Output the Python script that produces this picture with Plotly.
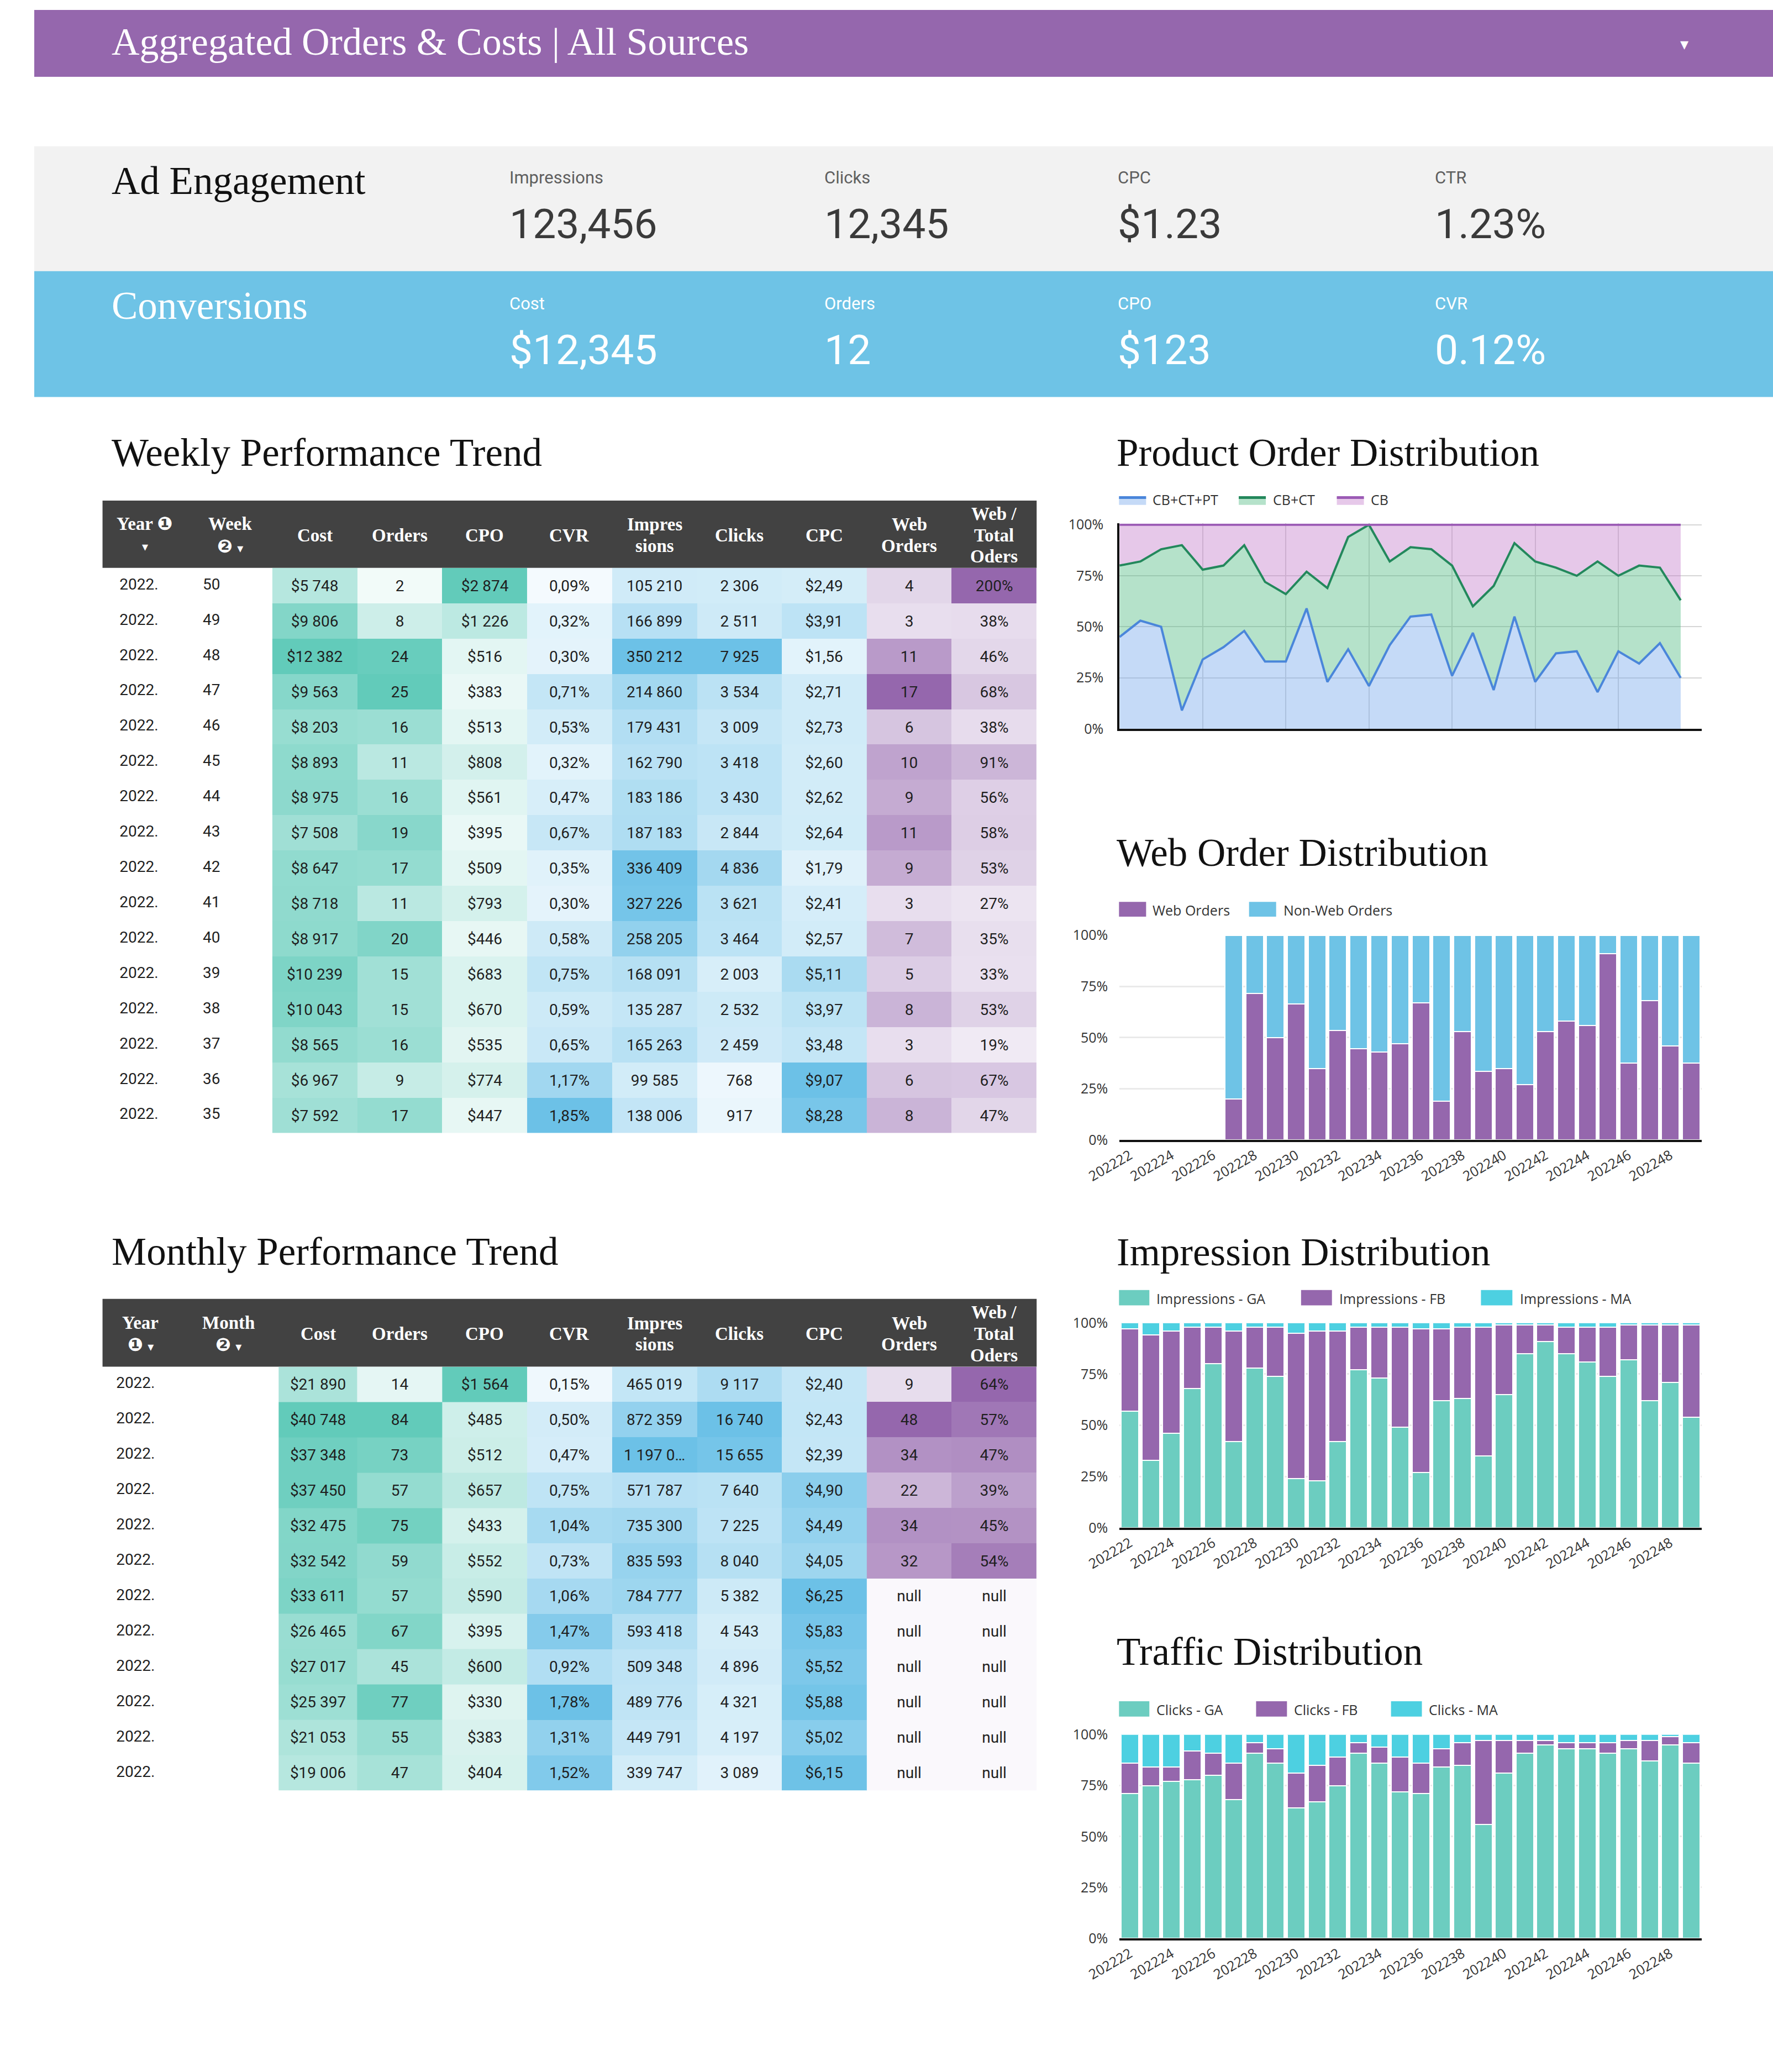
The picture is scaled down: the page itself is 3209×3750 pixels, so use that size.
import plotly.graph_objects as go

W, H = 3209, 3750


def fx(x):
    return x / W


def fy(y):
    return 1 - y / H


# ---------------- DATA ----------------
page_title = "Aggregated Orders & Costs | All Sources"
ad_title = "Ad Engagement"
ad_labels = ["Impressions", "Clicks", "CPC", "CTR"]
ad_values = ["123,456", "12,345", "$1.23", "1.23%"]
conv_title = "Conversions"
conv_labels = ["Cost", "Orders", "CPO", "CVR"]
conv_values = ["$12,345", "12", "$123", "0.12%"]

weekly_title = "Weekly Performance Trend"
monthly_title = "Monthly Performance Trend"
weekly_headers = [["Year ❶", "▾"], ["Week", "❷ ▾"], ["Cost"], ["Orders"], ["CPO"], ["CVR"],
                  ["Impres", "sions"], ["Clicks"], ["CPC"], ["Web", "Orders"], ["Web /", "Total", "Oders"]]
monthly_headers = [["Year", "❶ ▾"], ["Month", "❷ ▾"], ["Cost"], ["Orders"], ["CPO"], ["CVR"],
                   ["Impres", "sions"], ["Clicks"], ["CPC"], ["Web", "Orders"], ["Web /", "Total", "Oders"]]

weekly_year = [2022, 2022, 2022, 2022, 2022, 2022, 2022, 2022, 2022, 2022, 2022, 2022, 2022, 2022, 2022, 2022]
weekly_week = [50, 49, 48, 47, 46, 45, 44, 43, 42, 41, 40, 39, 38, 37, 36, 35]
weekly_cost = [5748, 9806, 12382, 9563, 8203, 8893, 8975, 7508, 8647, 8718, 8917, 10239, 10043, 8565, 6967, 7592]
weekly_orders = [2, 8, 24, 25, 16, 11, 16, 19, 17, 11, 20, 15, 15, 16, 9, 17]
weekly_cpo = [2874, 1226, 516, 383, 513, 808, 561, 395, 509, 793, 446, 683, 670, 535, 774, 447]
weekly_cvr = [0.09, 0.32, 0.30, 0.71, 0.53, 0.32, 0.47, 0.67, 0.35, 0.30, 0.58, 0.75, 0.59, 0.65, 1.17, 1.85]
weekly_impr = [105210, 166899, 350212, 214860, 179431, 162790, 183186, 187183, 336409, 327226, 258205,
               168091, 135287, 165263, 99585, 138006]
weekly_clicks = [2306, 2511, 7925, 3534, 3009, 3418, 3430, 2844, 4836, 3621, 3464, 2003, 2532, 2459, 768, 917]
weekly_cpc = [2.49, 3.91, 1.56, 2.71, 2.73, 2.60, 2.62, 2.64, 1.79, 2.41, 2.57, 5.11, 3.97, 3.48, 9.07, 8.28]
weekly_web = [4, 3, 11, 17, 6, 10, 9, 11, 9, 3, 7, 5, 8, 3, 6, 8]
weekly_webpct = [200, 38, 46, 68, 38, 91, 56, 58, 53, 27, 35, 33, 53, 19, 67, 47]

monthly_year = [2022, 2022, 2022, 2022, 2022, 2022, 2022, 2022, 2022, 2022, 2022, 2022]
monthly_cost = [21890, 40748, 37348, 37450, 32475, 32542, 33611, 26465, 27017, 25397, 21053, 19006]
monthly_orders = [14, 84, 73, 57, 75, 59, 57, 67, 45, 77, 55, 47]
monthly_cpo = [1564, 485, 512, 657, 433, 552, 590, 395, 600, 330, 383, 404]
monthly_cvr = [0.15, 0.50, 0.47, 0.75, 1.04, 0.73, 1.06, 1.47, 0.92, 1.78, 1.31, 1.52]
monthly_impr = [465019, 872359, 1197000, 571787, 735300, 835593, 784777, 593418, 509348, 489776, 449791, 339747]
monthly_clicks = [9117, 16740, 15655, 7640, 7225, 8040, 5382, 4543, 4896, 4321, 4197, 3089]
monthly_cpc = [2.40, 2.43, 2.39, 4.90, 4.49, 4.05, 6.25, 5.83, 5.52, 5.88, 5.02, 6.15]
monthly_web = [9, 48, 34, 22, 34, 32, None, None, None, None, None, None]
monthly_webpct = [64, 57, 47, 39, 45, 54, None, None, None, None, None, None]

weeks = ["202222", "202223", "202224", "202225", "202226", "202227", "202228", "202229", "202230",
         "202231", "202232", "202233", "202234", "202235", "202236", "202237", "202238", "202239",
         "202240", "202241", "202242", "202243", "202244", "202245", "202246", "202247", "202248", "202249"]
pct_ticks = [0, 25, 50, 75, 100]
pct_tick_labels = ["0%", "25%", "50%", "75%", "100%"]

prod_title = "Product Order Distribution"
prod_names = ["CB+CT+PT", "CB+CT", "CB"]
prod_cbctpt = [45, 53, 50, 9, 34, 40, 48, 33, 33, 59, 23, 39, 21, 41, 55, 56, 26, 47, 19, 55, 23, 37, 38, 18, 38, 32, 42, 25]
prod_cbct = [35, 29, 38, 81, 44, 40, 42, 39, 33, 18, 46, 55, 79, 41, 34, 32, 54, 13, 51, 36, 59, 42, 37, 64, 37, 48, 37, 38]
prod_cb = [20, 18, 12, 10, 22, 20, 10, 28, 34, 23, 31, 6, 0, 18, 11, 12, 20, 40, 30, 9, 18, 21, 25, 18, 25, 20, 21, 37]

web_title = "Web Order Distribution"
web_names = ["Web Orders", "Non-Web Orders"]
web_share = [None, None, None, None, None, 20, 71.5, 50, 66.5, 35, 53.5, 44.5, 43, 47, 67, 19, 53, 33.5,
             35, 27, 53, 58, 56, 91, 37.5, 68, 46, 37.5]
nonweb_share = [None, None, None, None, None, 80, 28.5, 50, 33.5, 65, 46.5, 55.5, 57, 53, 33, 81, 47, 66.5,
                65, 73, 47, 42, 44, 9, 62.5, 32, 54, 62.5]

impr_title = "Impression Distribution"
impr_names = ["Impressions - GA", "Impressions - FB", "Impressions - MA"]
impr_ga = [57, 33, 46, 68, 80, 42, 78, 74, 24, 23, 42, 77, 73, 49, 27, 62, 63, 35, 65, 85, 91, 85, 81, 74, 82, 62, 71, 54]
impr_fb = [40, 61, 50, 30, 18, 54, 20, 24, 71, 73, 54, 21, 25, 49, 70, 35, 35, 63, 34, 14, 8, 13, 17, 24, 17, 37, 28, 45]
impr_ma = [3, 6, 4, 2, 2, 4, 2, 2, 5, 4, 4, 2, 2, 2, 3, 3, 2, 2, 1, 1, 1, 2, 2, 2, 1, 1, 1, 1]

clk_title = "Traffic Distribution"
clk_names = ["Clicks - GA", "Clicks - FB", "Clicks - MA"]
clk_ga = [71, 75, 77, 78, 80, 68, 91, 86, 64, 67, 75, 91, 86, 72, 71, 84, 85, 56, 81, 91, 95, 93, 93, 91, 93, 87, 95, 86]
clk_fb = [15, 9, 7, 14, 11, 18, 5, 7, 17, 18, 14, 5, 8, 17, 15, 9, 11, 41, 16, 6, 2, 3, 3, 5, 4, 10, 4, 10]
clk_ma = [14, 16, 16, 8, 9, 14, 4, 7, 19, 15, 11, 4, 6, 11, 14, 7, 4, 3, 3, 3, 3, 4, 4, 4, 3, 3, 1, 4]

# ---------------- STYLE ----------------
SERIF = "Liberation Serif, DejaVu Serif, serif"
SANS = "Roboto, Open Sans, sans-serif"
CHART = "Open Sans, sans-serif"
PURPLE = "#9567AD"
BLUE = "#6EC3E6"
TEAL_MAX = "#62CBBA"
BLUE_MAX = "#6CC1E7"
PURPLE_MAX = "#9567AD"
GA_COL = "#6CCDC0"
FB_COL = "#9567AD"
MA_COL = "#4DD0E1"

fig = go.Figure()
shapes = []
annotations = []


def rect(x0, y0, x1, y1, color, layer="below"):
    shapes.append(dict(type="rect", xref="paper", yref="paper", x0=fx(x0), x1=fx(x1),
                       y0=fy(y1), y1=fy(y0), fillcolor=color, line=dict(width=0), layer=layer))


def label(x, y, s, size, color, family, xanchor="left"):
    annotations.append(dict(xref="paper", yref="paper", x=fx(x), y=fy(y), text=s, showarrow=False,
                            xanchor=xanchor, yanchor="middle", font=dict(size=size, color=color, family=family)))


# ---------------- HEADER & KPI BANDS ----------------
rect(0, 0, W, 122, PURPLE)
label(141, 58, page_title, 70, "white", SERIF)
label(3045, 62, "▾", 30, "white", "DejaVu Sans", xanchor="center")

rect(0, 249, W, 477, "#F2F2F2")
rect(0, 477, W, 707, BLUE)
label(141, 312, ad_title, 71, "#111111", SERIF)
label(141, 540, conv_title, 71, "white", SERIF)
kpi_x = [875, 1456, 1998, 2583]
for i in range(4):
    label(kpi_x[i], 306, ad_labels[i], 31, "#5f5f5f", SANS)
    label(kpi_x[i], 391, ad_values[i], 75, "#3a3a3a", SANS)
    label(kpi_x[i], 536, conv_labels[i], 31, "white", SANS)
    label(kpi_x[i], 621, conv_values[i], 75, "white", SANS)

# section titles
label(141, 808, weekly_title, 71, "#111111", SERIF)
label(141, 2268, monthly_title, 71, "#111111", SERIF)
label(1996, 808, prod_title, 71, "#111111", SERIF)
label(1996, 1539, web_title, 71, "#111111", SERIF)
label(1996, 2269, impr_title, 71, "#111111", SERIF)
label(1996, 2998, clk_title, 71, "#111111", SERIF)


# ---------------- TABLES ----------------
def f_int(v):
    return f"{v:,}".replace(",", " ")


def f_money0(v):
    return "$" + f_int(v)


def f_money2(v):
    return "$" + f"{v:.2f}".replace(".", ",")


def f_pct2(v):
    return f"{v:.2f}".replace(".", ",") + "%"


def f_pct0(v):
    return f"{v:.0f}%"


def f_impr(v):
    s = f_int(v)
    return s if len(s) <= 7 else s[:7] + "…"


TABLE_X0, TABLE_X1 = 126, 1850
COLW = (TABLE_X1 - TABLE_X0) / 11


def add_group(cols, fmts, edges, low, color, xa, ya):
    n = len(cols[0])
    maxes = [max(v for v in c if v is not None) for c in cols]
    z, t = [], []
    for r in range(n):
        zr, tr = [], []
        for c, f, m in zip(cols, fmts, maxes):
            v = c[r]
            if v is None:
                zr.append(0)
                tr.append("null")
            else:
                zr.append(v / m)
                tr.append(f(v))
        z.append(zr)
        t.append(tr)
    fig.add_trace(go.Heatmap(x=edges, y=list(range(n)), z=z, text=t, texttemplate="%{text}",
                             textfont=dict(family=SANS, size=28, color="#1f1f1f"),
                             colorscale=[[0, low], [1, color]], zmin=0, zmax=1,
                             showscale=False, hoverinfo="skip", xaxis=xa, yaxis=ya))


def add_table(year, second, cost, orders, cpo, cvr, impr, clicks, cpc, web, webpct,
              xa, ya, cost_left, year_x, second_x):
    n = len(year)
    add_group([cost, orders, cpo], [f_money0, f_int, f_money0], [cost_left, 2.5, 3.5, 4.5],
              "#FFFFFF", TEAL_MAX, xa, ya)
    add_group([cvr, impr, clicks, cpc], [f_pct2, f_impr, f_int, f_money2], [4.5, 5.5, 6.5, 7.5, 8.5],
              "#FBFDFF", BLUE_MAX, xa, ya)
    add_group([web, webpct], [lambda v: str(v), f_pct0], [8.5, 9.5, 10.5], "#FAF8FC", PURPLE_MAX, xa, ya)
    fig.add_trace(go.Scatter(x=[year_x] * n, y=list(range(n)), text=[f"{y}." for y in year], mode="text",
                             textposition="middle right", textfont=dict(family=SANS, size=28, color="#1f1f1f"),
                             hoverinfo="skip", xaxis=xa, yaxis=ya))
    if second is not None:
        fig.add_trace(go.Scatter(x=[second_x] * n, y=list(range(n)), text=[str(s) for s in second],
                                 mode="text", textposition="middle right",
                                 textfont=dict(family=SANS, size=28, color="#1f1f1f"),
                                 hoverinfo="skip", xaxis=xa, yaxis=ya))


add_table(weekly_year, weekly_week, weekly_cost, weekly_orders, weekly_cpo, weekly_cvr, weekly_impr,
          weekly_clicks, weekly_cpc, weekly_web, weekly_webpct, "x5", "y5", 1.5, -0.3, 0.68)
add_table(monthly_year, None, monthly_cost, monthly_orders, monthly_cpo, monthly_cvr, monthly_impr,
          monthly_clicks, monthly_cpc, monthly_web, monthly_webpct, "x6", "y6", 1.574, -0.34, 0.68)


def table_header(y0, y1, headers, centers):
    rect(TABLE_X0, y0, TABLE_X1, y1, "#424242")
    cy = (y0 + y1) / 2 + 2
    for lines, cx in zip(headers, centers):
        nl = len(lines)
        has_icon = any(("❶" in ln) or ("❷" in ln) or ("▾" in ln) for ln in lines)
        gap = 41 if has_icon else 39
        for j, ln in enumerate(lines):
            yy = cy + (j - (nl - 1) / 2) * gap
            ln = ln.replace("▾", "<span style='font-size:22px'>▾</span>")
            annotations.append(dict(xref="paper", yref="paper", x=fx(cx), y=fy(yy), text="<b>" + ln + "</b>",
                                    showarrow=False, xanchor="center", yanchor="middle", borderpad=0,
                                    font=dict(size=33, color="white", family=SERIF + ", DejaVu Sans")))


w_centers = [TABLE_X0 + COLW * (i + 0.5) for i in range(11)]
m_centers = [196, 358, 524] + w_centers[3:]
table_header(896, 1019, weekly_headers, w_centers)
table_header(2354, 2478, monthly_headers, m_centers)

# ---------------- CHARTS ----------------
prod_lines = ["#4A86DA", "#23885C", "#9B5BB5"]
prod_fills = ["rgba(110,162,235,0.4)", "rgba(70,182,122,0.4)", "rgba(192,117,200,0.4)"]
prod_swatch = ["#C5DAF7", "#B5E2CA", "#E6C8E9"]
for i, vals in enumerate([prod_cbctpt, prod_cbct, prod_cb]):
    fig.add_trace(go.Scatter(x=weeks, y=vals, name=prod_names[i], mode="lines",
                             line=dict(color=prod_lines[i], width=4), fillcolor=prod_fills[i],
                             stackgroup="prod", groupnorm="percent" if i == 0 else None,
                             hoverinfo="skip", xaxis="x", yaxis="y"))

for vals, nm, col in [(web_share, web_names[0], PURPLE), (nonweb_share, web_names[1], BLUE)]:
    fig.add_trace(go.Bar(x=weeks, y=vals, name=nm, marker=dict(color=col, line=dict(color="white", width=2)),
                         hoverinfo="skip", xaxis="x2", yaxis="y2"))
for vals, nm, col in [(impr_ga, impr_names[0], GA_COL), (impr_fb, impr_names[1], FB_COL),
                      (impr_ma, impr_names[2], MA_COL)]:
    fig.add_trace(go.Bar(x=weeks, y=vals, name=nm, marker=dict(color=col, line=dict(color="white", width=2)),
                         hoverinfo="skip", xaxis="x3", yaxis="y3"))
for vals, nm, col in [(clk_ga, clk_names[0], GA_COL), (clk_fb, clk_names[1], FB_COL),
                      (clk_ma, clk_names[2], MA_COL)]:
    fig.add_trace(go.Bar(x=weeks, y=vals, name=nm, marker=dict(color=col, line=dict(color="white", width=2)),
                         hoverinfo="skip", xaxis="x4", yaxis="y4"))

# manual legends
prod_leg = [(2002, 2052, 2062), (2223, 2273, 2284), (2404, 2454, 2465)]
for i, (s0, s1, tx) in enumerate(prod_leg):
    rect(s0, 890, s1, 904, prod_swatch[i], layer="above")
    rect(s0, 888, s1, 893, prod_lines[i], layer="above")
    label(tx, 894, prod_names[i], 25, "#333333", CHART)


def bar_legend(items, y0, y1):
    for (s0, s1, tx), (nm, col) in items:
        rect(s0, y0, s1, y1, col, layer="above")
        label(tx, (y0 + y1) / 2 + 1, nm, 25, "#333333", CHART)


bar_legend(list(zip([(2002, 2052, 2062), (2242, 2292, 2303)], zip(web_names, [PURPLE, BLUE]))), 1629, 1656)
bar_legend(list(zip([(2002, 2058, 2069), (2338, 2395, 2406), (2670, 2728, 2740)],
                    zip(impr_names, [GA_COL, FB_COL, MA_COL]))), 2338, 2366)
bar_legend(list(zip([(2002, 2058, 2069), (2255, 2312, 2323), (2504, 2561, 2572)],
                    zip(clk_names, [GA_COL, FB_COL, MA_COL]))), 3089, 3117)

tickfont = dict(family=CHART, size=25, color="#333333")
CX = [fx(2003), fx(3077)]

layout_axes = dict(
    xaxis=dict(domain=CX, anchor="y", type="category", range=[0, 28], tickvals=weeks[::4],
               showticklabels=False, showgrid=True, gridcolor="#D6D6D6", gridwidth=2, showline=True,
               linecolor="#111111", linewidth=4, ticks="", zeroline=False, fixedrange=True),
    yaxis=dict(domain=[fy(1313), fy(938)], anchor="x", range=[0, 100.6], tickmode="array",
               tickvals=pct_ticks, ticktext=pct_tick_labels, showgrid=True, gridcolor="#D6D6D6",
               gridwidth=2, showline=True, linecolor="#111111", linewidth=4, zeroline=False,
               tickfont=tickfont, ticklabelstandoff=20, fixedrange=True),
)
for k, (yb, yt) in zip([2, 3, 4], [(2064, 1690), (2772, 2398), (3522, 3150)]):
    layout_axes[f"xaxis{k}"] = dict(domain=CX, anchor=f"y{k}", type="category", tickvals=weeks[::2],
                                    tickangle=-30, tickfont=tickfont, showgrid=False, showline=True,
                                    linecolor="#111111", linewidth=4, ticks="", zeroline=False, fixedrange=True)
    layout_axes[f"yaxis{k}"] = dict(domain=[fy(yb), fy(yt)], anchor=f"x{k}", range=[0, 100],
                                    tickmode="array", tickvals=pct_ticks, ticktext=pct_tick_labels,
                                    showgrid=True, gridcolor="#EAEAEA", gridwidth=3, zeroline=False,
                                    showline=False, tickfont=tickfont, ticklabelstandoff=20, fixedrange=True)

TX = [fx(TABLE_X0), fx(TABLE_X1)]
layout_axes["xaxis5"] = dict(domain=TX, anchor="y5", range=[-0.5, 10.5], visible=False, fixedrange=True)
layout_axes["yaxis5"] = dict(domain=[fy(1019 + 16 * 64.5), fy(1019)], anchor="x5", range=[15.5, -0.5],
                             visible=False, fixedrange=True)
layout_axes["xaxis6"] = dict(domain=TX, anchor="y6", range=[-0.5, 10.5], visible=False, fixedrange=True)
layout_axes["yaxis6"] = dict(domain=[fy(2478 + 12 * 64.5), fy(2478)], anchor="x6", range=[11.5, -0.5],
                             visible=False, fixedrange=True)

fig.update_layout(
    width=W, height=H, margin=dict(l=0, r=0, t=0, b=0),
    paper_bgcolor="white", plot_bgcolor="rgba(0,0,0,0)",
    showlegend=False, barmode="stack", bargap=0.15,
    shapes=shapes, annotations=annotations,
    **layout_axes,
)

page_fix = (
    "document.documentElement.style.margin='0px';document.documentElement.style.padding='0px';"
    "document.body.style.margin='0px';document.body.style.padding='0px';"
)
fig.write_html("out.html", config={"displayModeBar": False}, post_script=page_fix)
